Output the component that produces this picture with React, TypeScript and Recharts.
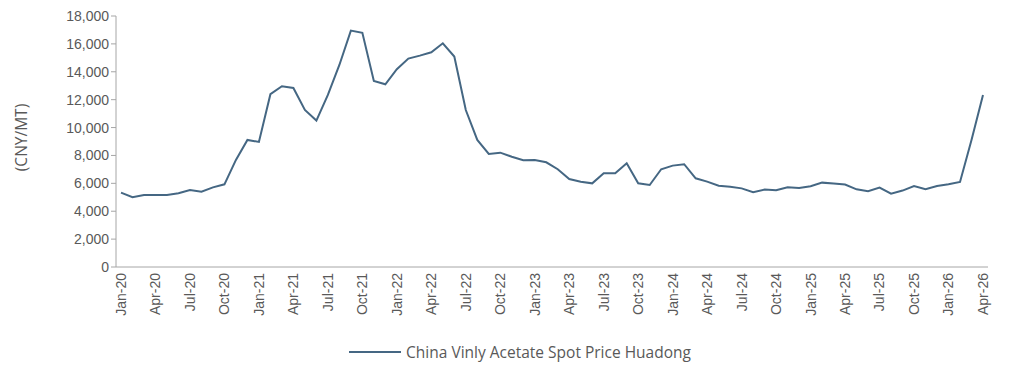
import { LineChart, Line, XAxis, YAxis, Legend } from 'recharts';

const months = [
  'Jan-20', 'Feb-20', 'Mar-20', 'Apr-20', 'May-20', 'Jun-20', 'Jul-20', 'Aug-20', 'Sep-20', 'Oct-20', 'Nov-20', 'Dec-20',
  'Jan-21', 'Feb-21', 'Mar-21', 'Apr-21', 'May-21', 'Jun-21', 'Jul-21', 'Aug-21', 'Sep-21', 'Oct-21', 'Nov-21', 'Dec-21',
  'Jan-22', 'Feb-22', 'Mar-22', 'Apr-22', 'May-22', 'Jun-22', 'Jul-22', 'Aug-22', 'Sep-22', 'Oct-22', 'Nov-22', 'Dec-22',
  'Jan-23', 'Feb-23', 'Mar-23', 'Apr-23', 'May-23', 'Jun-23', 'Jul-23', 'Aug-23', 'Sep-23', 'Oct-23', 'Nov-23', 'Dec-23',
  'Jan-24', 'Feb-24', 'Mar-24', 'Apr-24', 'May-24', 'Jun-24', 'Jul-24', 'Aug-24', 'Sep-24', 'Oct-24', 'Nov-24', 'Dec-24',
  'Jan-25', 'Feb-25', 'Mar-25', 'Apr-25', 'May-25', 'Jun-25', 'Jul-25', 'Aug-25', 'Sep-25', 'Oct-25', 'Nov-25', 'Dec-25',
  'Jan-26', 'Feb-26', 'Mar-26', 'Apr-26',
];

const prices = [
  5330, 5000, 5170, 5170, 5170, 5290, 5520, 5400, 5710, 5930, 7680, 9110,
  8970, 12390, 12960, 12840, 11260, 10500, 12340, 14490, 16950, 16790, 13340, 13100,
  14180, 14950, 15160, 15400, 16040, 15090, 11260, 9110, 8110, 8200, 7910, 7650,
  7680, 7510, 7010, 6310, 6120, 6000, 6720, 6720, 7440, 6000, 5880, 7010,
  7270, 7370, 6360, 6120, 5830, 5760, 5640, 5360, 5550, 5500, 5720, 5670,
  5790, 6050, 5980, 5910, 5570, 5430, 5690, 5260, 5480, 5810, 5570, 5810,
  5930, 6100, 9110, 12340,
];

const yTicks = [0, 2000, 4000, 6000, 8000, 10000, 12000, 14000, 16000, 18000];

const seriesName = 'China Vinly Acetate Spot Price Huadong';

const data = months.map((m, i) => ({ month: m, price: prices[i] }));

const lineColor = '#456783';
const axisColor = '#a6a6a6';
const textColor = '#595959';
const tickFont = '"Liberation Sans", Arial, sans-serif';
const plexLike = '"Open Sans", "Noto Sans", sans-serif';

const LegendContent = () => (
  <div style={{ display: 'flex', justifyContent: 'center', alignItems: 'center', paddingLeft: 52 }}>
    <svg width={52} height={4} style={{ marginRight: 5 }}>
      <line x1={0} y1={2} x2={52} y2={2} stroke={lineColor} strokeWidth={2} />
    </svg>
    <span style={{ color: textColor, fontSize: 15.5, fontFamily: plexLike, lineHeight: '20px' }}>
      {seriesName}
    </span>
  </div>
);

export default function App() {
  return (
    <div style={{ position: 'absolute', left: 0, top: 0, background: '#fff' }}>
      <LineChart
        width={1010}
        height={367}
        data={data}
        margin={{ top: 16, right: 22, left: 0, bottom: 5 }}
      >
        <XAxis
          dataKey="month"
          interval={2}
          angle={-90}
          textAnchor="end"
          height={75}
          dx={-5}
          dy={-2}
          tick={{ fontSize: 14, fill: textColor, fontFamily: tickFont }}
          tickLine={false}
          axisLine={{ stroke: axisColor }}
          padding={{ left: 5, right: 5 }}
        />
        <YAxis
          domain={[0, 18000]}
          ticks={yTicks}
          interval={0}
          width={116}
          tickFormatter={(v: number) => v.toLocaleString('en-US')}
          tick={{ fontSize: 14, fill: textColor, fontFamily: tickFont }}
          tickLine={{ stroke: axisColor }}
          tickSize={5}
          axisLine={{ stroke: axisColor }}
          label={{
            value: '(CNY/MT)',
            angle: -90,
            position: 'insideLeft',
            offset: 21,
            dy: -4,
            style: { fontSize: 15.5, fill: textColor, fontFamily: plexLike, textAnchor: 'middle' },
          }}
        />
        <Legend verticalAlign="bottom" height={20} content={<LegendContent />} />
        <Line
          type="linear"
          dataKey="price"
          name={seriesName}
          stroke={lineColor}
          strokeWidth={2}
          dot={false}
          isAnimationActive={false}
        />
      </LineChart>
    </div>
  );
}
